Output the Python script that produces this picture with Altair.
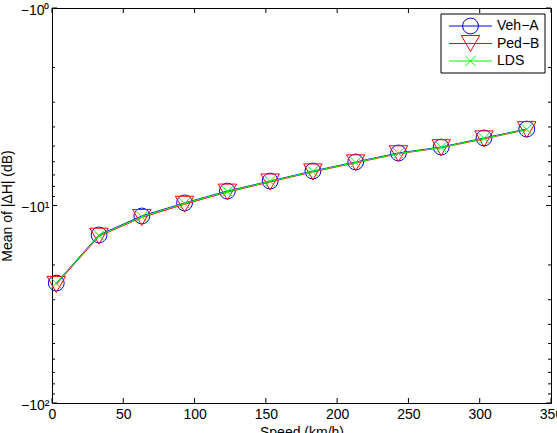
import altair as alt
import pandas as pd

# ---- data ----
speeds = [3, 33, 63, 93, 123, 153, 183, 213, 243, 273, 303, 333]
veh_a = [-24.7, -14.1, -11.3, -9.7, -8.45, -7.52, -6.69, -6.02, -5.42, -5.06, -4.55, -4.10]
ped_b = [-25.1, -14.3, -11.5, -9.85, -8.55, -7.6, -6.76, -6.08, -5.47, -5.10, -4.60, -4.13]
lds = [-24.8, -14.2, -11.4, -9.75, -8.5, -7.55, -6.72, -6.05, -5.45, -5.08, -4.57, -4.12]
series_names = ["Veh−A", "Ped−B", "LDS"]
series_colors = ["#0000ff", "#ff0000", "#00ff00"]
x_ticks = [0, 50, 100, 150, 200, 250, 300, 350]
y_major = [-1, -10, -100]
y_minor = [-2, -3, -4, -5, -6, -7, -8, -9, -20, -30, -40, -50, -60, -70, -80, -90]

W, H = 499, 395
FONT = "Liberation Sans"
FS = 14

x_axis = alt.Axis(values=x_ticks, tickSize=0, domain=False, grid=False, labelPadding=4,
                  labelFontSize=FS, titleFontSize=FS, titleFontWeight="normal",
                  labelColor="black", titleColor="black", titlePadding=4, labelFont=FONT, titleFont=FONT,
                  labelFlush=False)
y_axis = alt.Axis(values=y_major, tickSize=0, domain=False, grid=False, labelPadding=3,
                  labelFontSize=FS, titleFontSize=FS, titleFontWeight="normal",
                  labelColor="black", titleColor="black", titlePadding=6, labelFont=FONT, titleFont=FONT,
                  labelExpr="datum.value == -1 ? '−10⁰' : (datum.value == -10 ? '−10¹' : '−10²')",
                  labelOffset=2)
x_scale = alt.Scale(domain=[0, 350], nice=False, zero=False)
y_scale = alt.Scale(type="log", domain=[-100, -1], nice=False)
X_TITLE = "Speed (km/h)"
Y_TITLE = "Mean of |ΔH| (dB)"


def X(field):
    return alt.X(field, type="quantitative", scale=x_scale, axis=x_axis, title=X_TITLE)


def Y(field):
    return alt.Y(field, type="quantitative", scale=y_scale, axis=y_axis, title=Y_TITLE)


layers = []
shapes = ["circle", "triangle-down", "M-1,-1L1,1M-1,1L1,-1"]
sizes = [250, 340, 110]
for name, vals, color, shape, size in zip(series_names, [veh_a, ped_b, lds], series_colors, shapes, sizes):
    df = pd.DataFrame({"speed": speeds, "value": vals})
    base = alt.Chart(df)
    layers.append(base.mark_line(color=color, strokeWidth=1).encode(x=X("speed"), y=Y("value")))
    layers.append(base.mark_point(shape=shape, filled=False, color=color, strokeWidth=1, size=size, opacity=1)
                  .encode(x=X("speed"), y=Y("value")))

# inside ticks (MATLAB style, on all four sides)
xt = pd.DataFrame({"v": x_ticks})
layers.append(alt.Chart(xt).mark_rule(color="black", strokeWidth=1).encode(
    x=X("v"), y=alt.value(H), y2=alt.value(H - 5)))
layers.append(alt.Chart(xt).mark_rule(color="black", strokeWidth=1).encode(
    x=X("v"), y=alt.value(0), y2=alt.value(5)))
ymaj = pd.DataFrame({"v": y_major})
ymin = pd.DataFrame({"v": y_minor})
for d, ln in [(ymaj, 5), (ymin, 3)]:
    layers.append(alt.Chart(d).mark_rule(color="black", strokeWidth=1).encode(
        y=Y("v"), x=alt.value(0), x2=alt.value(ln)))
    layers.append(alt.Chart(d).mark_rule(color="black", strokeWidth=1).encode(
        y=Y("v"), x=alt.value(W), x2=alt.value(W - ln)))

# legend box (MATLAB style)
dummy = pd.DataFrame({"a": [0]})
layers.append(alt.Chart(dummy).mark_rect(fill="white", stroke="black", strokeWidth=1).encode(
    x=alt.value(389), x2=alt.value(493), y=alt.value(6), y2=alt.value(65)))
row_y = [18, 35.5, 53]
for name, color, shape, size, ry in zip(series_names, series_colors, shapes, sizes, row_y):
    layers.append(alt.Chart(dummy).mark_rule(color=color, strokeWidth=1).encode(
        x=alt.value(397), x2=alt.value(440), y=alt.value(ry)))
    layers.append(alt.Chart(dummy).mark_point(shape=shape, filled=False, color=color, strokeWidth=1,
                                              size=size, opacity=1).encode(
        x=alt.value(418.5), y=alt.value(ry)))
    layers.append(alt.Chart(pd.DataFrame({"t": [name]})).mark_text(
        align="left", baseline="middle", fontSize=FS, font=FONT, color="black").encode(
        x=alt.value(445), y=alt.value(ry), text="t:N"))

chart = alt.layer(*layers).properties(
    width=W, height=H,
    autosize=alt.AutoSizeParams(type="none"),
    padding={"left": 52, "top": 8, "right": 6, "bottom": 30},
    background="white",
).configure_view(stroke="black", strokeWidth=1)

chart.save("out.html", embed_options={"renderer": "svg", "actions": False})
